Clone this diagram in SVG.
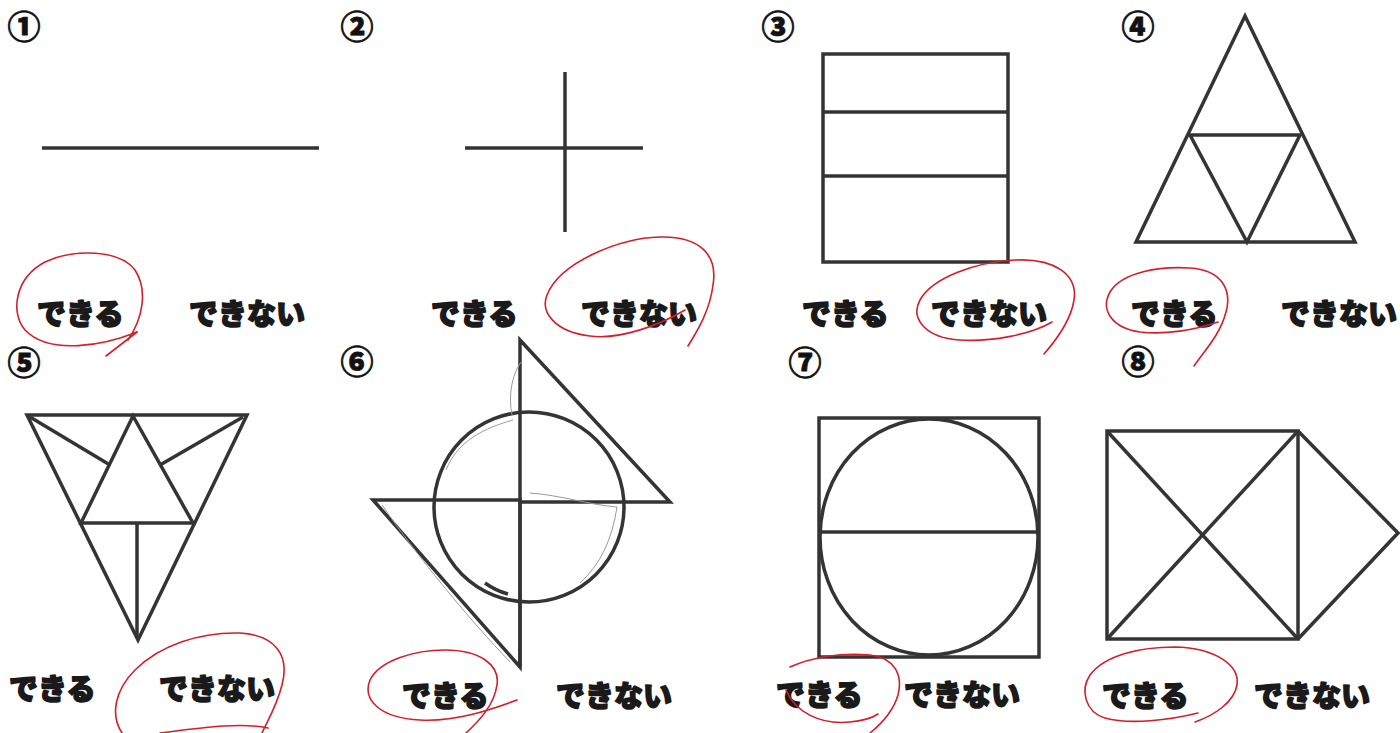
<svg xmlns="http://www.w3.org/2000/svg" width="1400" height="733" viewBox="0 0 1400 733">
<style>
.fig{fill:none;stroke:#343434;stroke-width:3.5;stroke-linejoin:miter;stroke-linecap:butt}
.faint{fill:none;stroke:#9a9a9a;stroke-width:1}
.red{fill:none;stroke:#d41e2c;stroke-width:1.6;stroke-linecap:round;stroke-linejoin:round}
.lbl{font-family:"Noto Sans CJK JP","Noto Sans CJK SC",sans-serif;font-weight:900;font-size:29px;fill:#1a1a1a;stroke:#1a1a1a;stroke-width:1.6;stroke-linejoin:round}
.num{font-family:"Noto Sans CJK JP","Noto Sans CJK SC",sans-serif;font-weight:900;font-size:33px;fill:#111;stroke:#111;stroke-width:0.8;text-anchor:middle}
</style>
<rect width="1400" height="733" fill="#fff"/>

<g id="panel1">
<text class="num" x="24" y="39">①</text>
<line class="fig" x1="42" y1="148" x2="319" y2="148"/>
<text class="lbl" x="37" y="325">できる</text>
<text class="lbl" x="189" y="325">できない</text>
</g>

<g id="panel2">
<text class="num" x="357" y="39">②</text>
<line class="fig" x1="565" y1="72" x2="565" y2="232"/>
<line class="fig" x1="465" y1="148" x2="643" y2="148"/>
<text class="lbl" x="431" y="325">できる</text>
<text class="lbl" x="581" y="325">できない</text>
</g>

<g id="panel3">
<text class="num" x="778" y="39">③</text>
<rect class="fig" x="823" y="54" width="185" height="208"/>
<line class="fig" x1="823" y1="112" x2="1008" y2="112"/>
<line class="fig" x1="823" y1="176" x2="1008" y2="176"/>
<text class="lbl" x="802" y="325">できる</text>
<text class="lbl" x="931" y="325">できない</text>
</g>

<g id="panel4">
<text class="num" x="1138" y="39">④</text>
<polygon class="fig" points="1245,16 1355,242 1136,242"/>
<polygon class="fig" points="1190,135 1300,135 1247,242"/>
<text class="lbl" x="1131" y="325">できる</text>
<text class="lbl" x="1281" y="325">できない</text>
</g>

<g id="panel5">
<text class="num" x="24" y="375">⑤</text>
<polygon class="fig" points="27,415 247,415 138,640"/>
<polygon class="fig" points="133,416 193,523 81,523"/>
<line class="fig" x1="30" y1="417" x2="110" y2="465"/>
<line class="fig" x1="243" y1="417" x2="160" y2="465"/>
<line class="fig" x1="137" y1="523" x2="137" y2="636"/>
<text class="lbl" x="9" y="700">できる</text>
<text class="lbl" x="159" y="700">できない</text>
</g>

<g id="panel6">
<text class="num" x="357" y="374">⑥</text>
<circle class="fig" cx="529" cy="507" r="95" stroke-width="4"/>
<polygon class="fig" points="520,340 670,502 520,502"/>
<polygon class="fig" points="373,500 520,500 520,667"/>
<line class="fig" x1="520" y1="500" x2="520" y2="667"/>
<path class="faint" d="M521 362 C 512 375 508 395 512 415"/>
<path class="faint" d="M513 420 C 485 428 458 440 446 470"/>
<path class="faint" d="M530 493 C 560 495 590 505 617 507"/>
<path class="faint" d="M617 507 C 612 540 600 565 580 583"/>
<path class="faint" d="M382 505 C 420 560 470 620 510 662"/>
<path class="fig" d="M485 583 C 492 588 500 592 508 594" stroke-width="2"/>
<text class="lbl" x="402" y="707">できる</text>
<text class="lbl" x="556" y="707">できない</text>
</g>

<g id="panel7">
<text class="num" x="805" y="375">⑦</text>
<rect class="fig" x="819" y="418" width="220" height="239"/>
<ellipse class="fig" cx="929" cy="537" rx="109" ry="118"/>
<line class="fig" x1="821" y1="532" x2="1039" y2="532"/>
<text class="lbl" x="776" y="706">できる</text>
<text class="lbl" x="904" y="706">できない</text>
</g>

<g id="panel8">
<text class="num" x="1138" y="374">⑧</text>
<rect class="fig" x="1107" y="431" width="191" height="208"/>
<line class="fig" x1="1107" y1="431" x2="1298" y2="639"/>
<line class="fig" x1="1107" y1="639" x2="1298" y2="431"/>
<polyline class="fig" points="1298,431 1398,533 1298,639"/>
<text class="lbl" x="1102" y="707">できる</text>
<text class="lbl" x="1254" y="707">できない</text>
</g>

<g id="marks">
<path class="red" d="M137 332 C 105 345 50 356 25 330 C 10 312 15 278 45 262 C 75 248 120 250 135 270 C 148 290 143 318 128 340"/>
<path class="red" d="M137 332 L 106 356"/>
<path class="red" d="M685 310 C 660 325 620 340 590 336 C 555 332 540 312 547 295 C 560 262 620 238 660 237 C 700 236 718 255 713 285 C 710 310 698 330 688 346"/>
<path class="red" d="M1052 322 C 1030 335 990 342 960 340 C 925 338 910 318 920 300 C 932 278 975 262 1015 260 C 1055 258 1078 275 1074 300 C 1071 320 1058 338 1044 354"/>
<path class="red" d="M1218 322 C 1195 330 1165 335 1140 332 C 1112 328 1100 310 1110 292 C 1122 272 1160 266 1190 268 C 1222 270 1232 290 1226 312 C 1220 335 1205 350 1194 366"/>
<path class="red" d="M268 728 C 240 722 200 728 160 733"/>
<path class="red" d="M122 733 C 110 715 115 690 135 670 C 160 645 200 632 240 633 C 275 635 290 655 282 685 C 277 705 268 720 262 733"/>
<path class="red" d="M517 700 C 490 710 455 722 420 720 C 380 718 362 700 370 680 C 380 660 415 650 445 650 C 480 650 500 665 497 685 C 494 705 480 720 466 733"/>
<path class="red" d="M790 667 C 810 658 840 652 870 655 C 895 658 903 675 898 695 C 893 712 880 725 870 733"/>
<path class="red" d="M786 690 C 795 712 820 725 850 722 C 862 721 872 718 878 714"/>
<path class="red" d="M1198 713 C 1170 720 1130 725 1105 718 C 1085 712 1080 690 1090 675 C 1105 655 1140 647 1175 647 C 1215 648 1240 665 1237 685 C 1234 702 1215 715 1195 722"/>
</g>
</svg>
